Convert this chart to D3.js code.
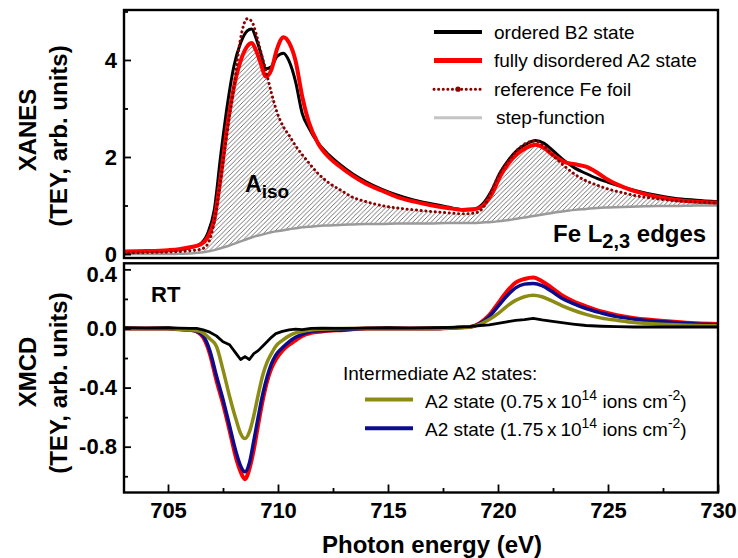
<!DOCTYPE html>
<html lang="en">
<head>
<meta charset="utf-8">
<title>Fe L2,3 XANES and XMCD</title>
<script src="https://d3js.org/d3.v7.min.js"></script>
<style>
  body { margin: 0; background: #fff; }
  svg { display: block; font-family: "Liberation Sans", Arial, sans-serif; }
  .axis text { font-size: 22px; font-weight: bold; fill: #000; font-family: "Liberation Sans", Arial, sans-serif; }
  .axis line { stroke: #000; stroke-width: 1.8; }
  .title { font-size: 24px; font-weight: bold; }
  .legend { font-size: 19px; }
</style>
</head>
<body>
<svg id="chart" width="738" height="558"></svg>
<script>
// ---- data ----
// top panel (XANES), all series share this energy grid
var xanesEnergy = [703, 704, 705, 705.5, 706, 706.5, 706.8, 707.1, 707.4, 707.7, 708.0, 708.3, 708.6, 708.8,
  709.0, 709.2, 709.45, 709.7, 709.95, 710.25, 710.5, 710.8, 711.1, 711.4, 711.8, 712.3, 712.8, 713.4,
  714, 714.7, 715.4, 716.2, 716.9, 717.7, 718.4, 718.9, 719.3, 719.7, 720.1, 720.5, 720.9, 721.3,
  721.7, 722.1, 722.5, 723.0, 723.5, 724.0, 724.5, 725.0, 725.7, 726.4, 727.2, 728.0, 729.0, 730];
var xanesB2 = [0.04, 0.05, 0.07, 0.09, 0.13, 0.22, 0.42, 0.90, 2.05, 3.08, 3.88, 4.35, 4.60, 4.64,
  4.45, 4.17, 3.82, 3.86, 4.07, 4.14, 3.98, 3.55, 2.90, 2.60, 2.30, 2.05, 1.85, 1.65,
  1.49, 1.34, 1.22, 1.11, 1.04, 0.97, 0.92, 0.93, 1.03, 1.30, 1.68, 1.95, 2.15, 2.27,
  2.34, 2.28, 2.13, 1.93, 1.77, 1.66, 1.56, 1.48, 1.38, 1.29, 1.21, 1.15, 1.11, 1.08];
var xanesA2 = [0.05, 0.06, 0.08, 0.10, 0.14, 0.20, 0.34, 0.70, 1.60, 2.65, 3.45, 3.98, 4.28, 4.35,
  4.20, 3.95, 3.66, 3.80, 4.22, 4.47, 4.36, 3.98, 3.25, 2.72, 2.30, 2.00, 1.81, 1.61,
  1.45, 1.31, 1.18, 1.08, 1.01, 0.95, 0.91, 0.92, 0.99, 1.22, 1.60, 1.88, 2.07, 2.19,
  2.25, 2.18, 2.04, 1.90, 1.85, 1.80, 1.68, 1.53, 1.38, 1.27, 1.18, 1.12, 1.08, 1.06];
var xanesFeFoil = [0.02, 0.03, 0.04, 0.05, 0.07, 0.10, 0.20, 0.65, 1.55, 2.55, 3.45, 4.45, 4.85, 4.80,
  4.55, 4.20, 3.78, 3.32, 2.93, 2.62, 2.45, 2.23, 2.05, 1.88, 1.67, 1.47, 1.33, 1.17,
  1.08, 1.00, 0.95, 0.91, 0.88, 0.85, 0.83, 0.84, 0.94, 1.30, 1.68, 1.93, 2.15, 2.29,
  2.33, 2.22, 2.03, 1.82, 1.64, 1.51, 1.42, 1.34, 1.26, 1.19, 1.14, 1.10, 1.07, 1.05];
var xanesStep = [0, 0, 0, 0.005, 0.01, 0.03, 0.05, 0.08, 0.12, 0.16, 0.21, 0.26, 0.31, 0.34,
  0.37, 0.39, 0.42, 0.45, 0.47, 0.49, 0.51, 0.53, 0.55, 0.56, 0.58, 0.59, 0.60, 0.61,
  0.62, 0.62, 0.63, 0.63, 0.63, 0.64, 0.64, 0.64, 0.65, 0.66, 0.68, 0.70, 0.73, 0.76,
  0.79, 0.82, 0.85, 0.88, 0.91, 0.93, 0.95, 0.96, 0.97, 0.98, 0.99, 0.99, 1.0, 1.0];

// bottom panel (XMCD)
var xmcdEnergy = [703, 704, 705, 705.5, 706, 706.3, 706.6, 706.9, 707.2, 707.5, 707.8, 708.1, 708.3, 708.5,
  708.7, 708.9, 709.1, 709.3, 709.5, 709.7, 709.9, 710.2, 710.5, 710.8, 711.1, 711.5, 712, 713,
  714, 715, 716, 717, 718, 718.7, 719.2, 719.6, 720, 720.4, 720.8, 721.2, 721.6, 722,
  722.4, 722.9, 723.4, 724, 724.7, 725.4, 726.2, 727, 728, 729, 730];
var xmcdA2 = [0, 0, 0, -0.005, -0.01, -0.02, -0.06, -0.17, -0.35, -0.51, -0.69, -0.88, -0.97, -1.02,
  -0.95, -0.82, -0.65, -0.49, -0.36, -0.27, -0.21, -0.15, -0.11, -0.08, -0.05, -0.03, -0.02, -0.01,
  0, 0, 0, 0, 0.005, 0.01, 0.04, 0.09, 0.17, 0.25, 0.31, 0.335, 0.345, 0.32,
  0.28, 0.225, 0.185, 0.15, 0.115, 0.09, 0.07, 0.058, 0.045, 0.035, 0.03];
var xmcdA2dose175 = [0, 0, 0, -0.005, -0.01, -0.02, -0.05, -0.15, -0.32, -0.48, -0.66, -0.84, -0.93, -0.97,
  -0.91, -0.76, -0.60, -0.45, -0.33, -0.24, -0.18, -0.13, -0.09, -0.06, -0.04, -0.02, -0.015, -0.01,
  0, 0, 0, 0, 0.005, 0.01, 0.035, 0.08, 0.15, 0.22, 0.275, 0.30, 0.305, 0.29,
  0.255, 0.205, 0.17, 0.135, 0.105, 0.08, 0.063, 0.05, 0.04, 0.03, 0.025];
var xmcdA2dose075 = [0, 0, 0, -0.005, -0.01, -0.015, -0.03, -0.07, -0.12, -0.28, -0.46, -0.62, -0.71, -0.745,
  -0.70, -0.59, -0.45, -0.32, -0.23, -0.17, -0.12, -0.08, -0.05, -0.03, -0.02, -0.01, -0.005, 0,
  0, 0, 0, 0, 0.005, 0.01, 0.03, 0.06, 0.10, 0.15, 0.19, 0.215, 0.225, 0.215,
  0.19, 0.155, 0.125, 0.095, 0.07, 0.055, 0.04, 0.032, 0.025, 0.02, 0.018];
var xmcdB2 = [0.005, 0.003, 0.005, 0.002, 0, 0, -0.01, -0.025, -0.05, -0.09, -0.11, -0.17, -0.21, -0.19,
  -0.21, -0.17, -0.15, -0.12, -0.09, -0.06, -0.035, -0.02, -0.01, -0.005, -0.008, 0, 0.003, 0,
  0.003, 0.005, 0.003, 0.005, 0.008, 0.012, 0.02, 0.025, 0.035, 0.045, 0.055, 0.06, 0.068, 0.058,
  0.05, 0.04, 0.03, 0.02, 0.015, 0.012, 0.01, 0.01, 0.01, 0.01, 0.01];

var xTicks = [705, 710, 715, 720, 725, 730];
var xMinorTicks = [707.5, 712.5, 717.5, 722.5, 727.5];
var xanesTicks = [0, 2, 4];
var xanesMinorTicks = [1, 3, 5];
var xmcdTicks = [0.4, 0.0, -0.4, -0.8];
var xmcdMinorTicks = [0.2, -0.2, -0.6, -1.0];

var xanesLegend = ["ordered B2 state", "fully disordered A2 state", "reference Fe foil", "step-function"];
var xmcdLegendDoses = ["0.75", "1.75"];

// ---- layout ----
var svg = d3.select("#chart");
var left = 124, right = 718;
var topPanel = { top: 10, bottom: 258 };
var botPanel = { top: 263.3, bottom: 492.5 };

var x = d3.scaleLinear().domain([703, 730]).range([left, right]);
var yTop = d3.scaleLinear().domain([-0.082, 5.03]).range([topPanel.bottom, topPanel.top]);
var yBot = d3.scaleLinear().domain([-1.11, 0.441]).range([botPanel.bottom, botPanel.top]);

var defs = svg.append("defs");
var hatch = defs.append("pattern")
  .attr("id", "hatch")
  .attr("patternUnits", "userSpaceOnUse")
  .attr("width", 4.6).attr("height", 4.6);
hatch.append("path")
  .attr("d", "M-1,1 L1,-1 M0,4.6 L4.6,0 M3.6,5.6 L5.6,3.6")
  .attr("stroke", "#444").attr("stroke-width", 0.75);

defs.append("clipPath").attr("id", "clipTop").append("rect")
  .attr("x", left).attr("y", topPanel.top).attr("width", right - left).attr("height", topPanel.bottom - topPanel.top);
defs.append("clipPath").attr("id", "clipBot").append("rect")
  .attr("x", left).attr("y", botPanel.top).attr("width", right - left).attr("height", botPanel.bottom - botPanel.top);

function series(energy, values) {
  return energy.map(function(e, i) { return [e, values[i]]; });
}

function drawLine(g, data, yScale, color, width, curve) {
  return g.append("path")
    .datum(data)
    .attr("fill", "none")
    .attr("stroke", color)
    .attr("stroke-width", width)
    .attr("stroke-linejoin", "round")
    .attr("d", d3.line()
      .x(function(d) { return x(d[0]); })
      .y(function(d) { return yScale(d[1]); })
      .curve(curve || d3.curveMonotoneX));
}

// ---- top panel: XANES ----
var gTop = svg.append("g").attr("clip-path", "url(#clipTop)");

var isoArea = d3.area()
  .x(function(d) { return x(d.e); })
  .y0(function(d) { return yTop(d.step); })
  .y1(function(d) { return yTop(d.top); })
  .curve(d3.curveMonotoneX);
var isoData = xanesEnergy.map(function(e, i) {
  return { e: e, step: xanesStep[i], top: Math.min(xanesA2[i], xanesFeFoil[i]) };
});
gTop.append("path").datum(isoData).attr("fill", "url(#hatch)").attr("d", isoArea);

drawLine(gTop, series(xanesEnergy, xanesStep), yTop, "#9a9a9a", 2.5);
drawLine(gTop, series(xanesEnergy, xanesB2), yTop, "#000", 3);
drawLine(gTop, series(xanesEnergy, xanesA2), yTop, "#ff0000", 4);
drawLine(gTop, series(xanesEnergy, xanesFeFoil), yTop, "#8b0000", 3)
  .attr("stroke-dasharray", "0.1,4.6")
  .attr("stroke-linecap", "round");

// ---- bottom panel: XMCD ----
var gBot = svg.append("g").attr("clip-path", "url(#clipBot)");
drawLine(gBot, series(xmcdEnergy, xmcdA2), yBot, "#ff0000", 4);
drawLine(gBot, series(xmcdEnergy, xmcdA2dose175), yBot, "#0c0c8c", 3.5);
drawLine(gBot, series(xmcdEnergy, xmcdA2dose075), yBot, "#8c8c14", 3.5);
drawLine(gBot, series(xmcdEnergy, xmcdB2), yBot, "#000", 2.8, d3.curveLinear);

// ---- axes (ticks point inward) ----
function styleAxis(g) {
  g.select(".domain").remove();
  g.attr("font-size", null).attr("font-family", null);
}

svg.append("g").attr("class", "axis")
  .attr("transform", "translate(" + left + ",0)")
  .call(d3.axisLeft(yTop).tickValues(xanesTicks).tickSize(-7).tickPadding(7).tickFormat(d3.format("d")))
  .call(styleAxis);
svg.append("g").attr("class", "axis")
  .attr("transform", "translate(" + left + ",0)")
  .call(d3.axisLeft(yTop).tickValues(xanesMinorTicks).tickSize(-4).tickFormat(""))
  .call(styleAxis);

var yBotAxis = svg.append("g").attr("class", "axis")
  .attr("transform", "translate(" + left + ",0)")
  .call(d3.axisLeft(yBot).tickValues(xmcdTicks).tickSize(-7).tickPadding(7)
    .tickFormat(function(d) { return d3.format(".1f")(d).replace("\u2212", "-"); }))
  .call(styleAxis);
// the top label sits a bit lower in the original so it clears the "0" above
yBotAxis.selectAll(".tick text").filter(function(d) { return d === 0.4; }).attr("y", 5);
svg.append("g").attr("class", "axis")
  .attr("transform", "translate(" + left + ",0)")
  .call(d3.axisLeft(yBot).tickValues(xmcdMinorTicks).tickSize(-4).tickFormat(""))
  .call(styleAxis);

svg.append("g").attr("class", "axis")
  .attr("transform", "translate(0," + botPanel.bottom + ")")
  .call(d3.axisBottom(x).tickValues(xTicks).tickSize(-8).tickPadding(10).tickFormat(d3.format("d")))
  .call(styleAxis);
svg.append("g").attr("class", "axis")
  .attr("transform", "translate(0," + botPanel.bottom + ")")
  .call(d3.axisBottom(x).tickValues(xMinorTicks).tickSize(-4.5).tickFormat(""))
  .call(styleAxis);

// frames
[topPanel, botPanel].forEach(function(p) {
  svg.append("rect")
    .attr("x", left).attr("y", p.top)
    .attr("width", right - left).attr("height", p.bottom - p.top)
    .attr("fill", "none").attr("stroke", "#000").attr("stroke-width", 2.4);
});

// ---- titles ----
function yTitle(cx, cy, txt) {
  svg.append("text").attr("class", "title")
    .attr("transform", "translate(" + cx + "," + cy + ") rotate(-90)")
    .attr("text-anchor", "middle")
    .text(txt);
}
yTitle(36, 130, "XANES");
yTitle(67, 136, "(TEY, arb. units)");
yTitle(36, 372, "XMCD");
yTitle(67, 383, "(TEY, arb. units)");

svg.append("text").attr("class", "title")
  .attr("x", 432).attr("y", 553)
  .attr("text-anchor", "middle")
  .text("Photon energy (eV)");

// in-plot annotations
var aiso = svg.append("text").attr("x", 245).attr("y", 192)
  .attr("font-size", 23).attr("font-weight", "bold");
aiso.append("tspan").text("A");
aiso.append("tspan").attr("dy", 6).attr("font-size", 19).text("iso");

var edge = svg.append("text").attr("x", 553).attr("y", 242)
  .attr("font-size", 24).attr("font-weight", "bold");
edge.append("tspan").text("Fe L");
edge.append("tspan").attr("dy", 6).attr("font-size", 20).text("2,3");
edge.append("tspan").attr("dy", -6).text(" edges");

svg.append("text").attr("x", 151).attr("y", 302)
  .attr("font-size", 22).attr("font-weight", "bold").text("RT");

// ---- legends ----
var legTop = svg.append("g").attr("class", "legend");
var legColors = ["#000", "#ff0000", "#8b0000", "#c4c4c4"];
var legWidths = [4, 5, 3, 3];
xanesLegend.forEach(function(name, i) {
  var yy = 32 + i * 28.6;
  var ln = legTop.append("line")
    .attr("x1", 434).attr("x2", 482).attr("y1", yy).attr("y2", yy)
    .attr("stroke", legColors[i]).attr("stroke-width", legWidths[i]);
  if (i === 2) {
    ln.attr("stroke-dasharray", "0.1,4.5").attr("stroke-linecap", "round");
    legTop.append("circle").attr("cx", 458).attr("cy", yy).attr("r", 2.6).attr("fill", "#8b0000");
  }
  legTop.append("text").attr("x", i === 3 ? 496 : 494).attr("y", yy + 6.5).text(name);
});

var legBot = svg.append("g").attr("class", "legend");
legBot.append("text").attr("x", 343).attr("y", 380).text("Intermediate A2 states:");
var doseColors = ["#8c8c14", "#0c0c8c"];
xmcdLegendDoses.forEach(function(dose, i) {
  var yy = 399.5 + i * 28.8;
  legBot.append("line")
    .attr("x1", 365).attr("x2", 413).attr("y1", yy).attr("y2", yy)
    .attr("stroke", doseColors[i]).attr("stroke-width", 4);
  var t = legBot.append("text").attr("x", 425).attr("y", yy + 8);
  t.append("tspan").text("A2 state (" + dose + "\u2009x\u200910");
  t.append("tspan").attr("dy", -8).attr("font-size", 14).text("14");
  t.append("tspan").attr("dy", 8).text(" ions cm");
  t.append("tspan").attr("dy", -8).attr("font-size", 14).text("-2");
  t.append("tspan").attr("dy", 8).text(")");
});
</script>
</body>
</html>
